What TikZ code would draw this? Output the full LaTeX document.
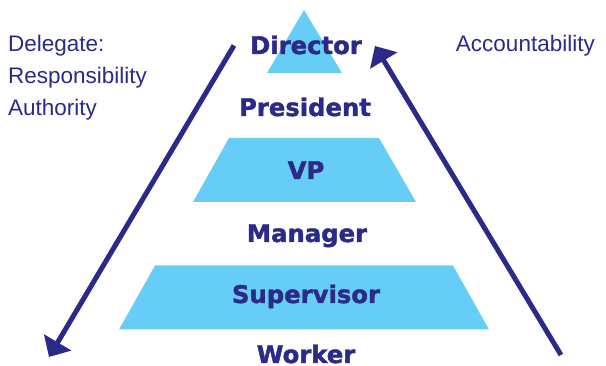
\documentclass[tikz,border=0pt]{standalone}
\usepackage{fontspec}
\setmainfont{Liberation Sans}
\newfontfamily\tierfont[BoldFeatures={FakeBold=1.6}]{DejaVu Sans}
\usetikzlibrary{arrows.meta}
\definecolor{navy}{RGB}{43,42,136}
\definecolor{tierblue}{RGB}{102,206,246}
\begin{document}
\begin{tikzpicture}[x=1pt,y=-1pt,
  tier/.style={fill=tierblue},
  rank/.style={anchor=base, inner sep=0pt, text=navy,
    font=\tierfont\bfseries\fontsize{24.3}{28}\selectfont},
  side/.style={anchor=base west, inner sep=0pt, text=navy,
    font=\fontsize{22.5}{26}\selectfont},
  flow/.style={draw=navy, line width=5pt,
    -{Triangle[length=17pt,width=31pt]}}]
\useasboundingbox (0,0) rectangle (606,366);

% pyramid tiers
\fill[tier] (304,10) -- (342,73) -- (267,73) -- cycle;
\fill[tier] (229,138) -- (379,138) -- (416,202) -- (193,202) -- cycle;
\fill[tier] (155,265.5) -- (453,265.5) -- (489,329.5) -- (119,329.5) -- cycle;

% ranks
\node[rank] (director)   at (306,54)    {Director};
\node[rank] (president)  at (305,116)   {President};
\node[rank] (vp)         at (306,179)   {VP};
\node[rank] (manager)    at (307,242)   {Manager};
\node[rank] (supervisor) at (306,303)   {Supervisor};
\node[rank] (worker)     at (306,363)   {Worker};

% side captions
\node[side] (delegate) at (8,52)    {Delegate:};
\node[side] (resp)     at (8,84)    {Responsibility};
\node[side] (auth)     at (8,115.5) {Authority};
\node[side, anchor=base east] (acct) at (595,52) {Accountability};

% delegation goes down, accountability goes up
\coordinate (downstart) at (234,45.5);
\coordinate (downend)   at (49,357);
\coordinate (upstart)   at (561,355);
\coordinate (upend)     at (375,46);
\draw[flow] (downstart) -- (downend);
\draw[flow] (upstart) -- (upend);
\end{tikzpicture}
\end{document}
